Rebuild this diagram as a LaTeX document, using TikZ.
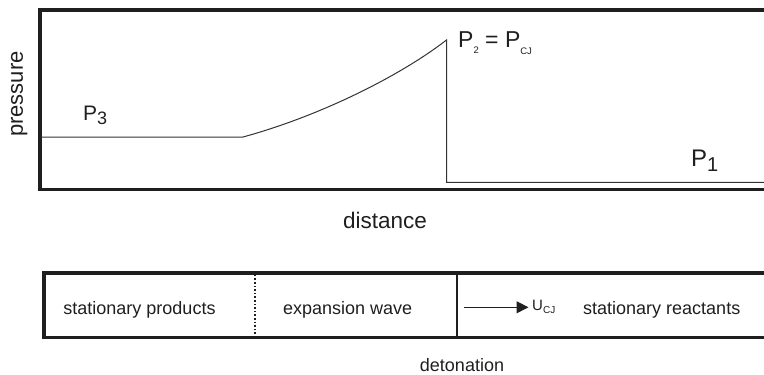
\documentclass[tikz,border=0pt]{standalone}
\usepackage{fontspec}
\setmainfont{Liberation Sans}
\usetikzlibrary{arrows.meta}
\newcommand{\fsz}[1]{\fontsize{#1}{#1}\selectfont}
\begin{document}
\begin{tikzpicture}[x=1pt,y=-1pt,
  frame/.style={line width=3.5pt, color=black!88, line join=miter},
  plotline/.style={line width=1pt, color=black!80},
  txt/.style={inner sep=0pt, font=\fsz{18}, text=black!88},
  big/.style={inner sep=0pt, font=\fsz{21}, text=black!88}]
\useasboundingbox (0,0) rectangle (764,375);
% pressure plot frame
\draw[frame] (766,10) -- (40,10) -- (40,189.5) -- (766,189.5);
\coordinate (a) at (41,137);
\coordinate (b) at (243,137);
\coordinate (c) at (446.5,40);
\coordinate (d) at (446.5,182.3);
\coordinate (e) at (766,182.3);
\draw[plotline] (a) -- (b) .. controls (320,116) and (400,76) .. (c) -- (d) -- (e);
% labels of plot
\node[big, rotate=90, anchor=base, font=\fsz{22}] (pr) at (23,94) {pressure};
\node[big, anchor=base west] (p3) at (83,120.7) {P\raisebox{-4pt}{\fsz{18}3}};
\node[inner sep=0pt, anchor=base west, text=black!88] (p2) at (458,47.7)
  {\fsz{23}P\raisebox{-5.5pt}{\fsz{9.5}2} = P\raisebox{-6.5pt}{\fsz{9.5}CJ}};
\node[inner sep=0pt, anchor=base west, text=black!88, font=\fsz{24}] (p1) at (691,166.7) {P\raisebox{-5pt}{\fsz{20}1}};
\node[big, anchor=base, font=\fsz{22.5}] (dist) at (385,228) {distance};
% lower box
\draw[frame] (766,273) -- (44,273) -- (44,337.7) -- (766,337.7);
\coordinate (dt) at (255,274.7);
\coordinate (db) at (255,336);
\draw[line width=1.6pt, dotted, color=black!88] (dt) -- (db);
\coordinate (st) at (456.7,274.7);
\coordinate (sb) at (456.7,336);
\draw[line width=1.6pt, color=black!88] (st) -- (sb);
\node[txt, anchor=base] (sp) at (139.5,314) {stationary products};
\node[txt, anchor=base west] (ew) at (283,314) {expansion wave};
\coordinate (aS) at (463.5,307.3);
\coordinate (aE) at (528.5,307.3);
\node[inner sep=0pt, anchor=base west, text=black!88] (u) at (532,310.7) {\fsz{15}U\raisebox{-2.5pt}{\fsz{10}CJ}};
\draw[line width=1pt, color=black!88, -{Triangle[length=12pt,width=12pt]}] (aS) -- (aE);
\node[txt, anchor=base west] (sr) at (583,314) {stationary reactants};
\node[inner sep=0pt, font=\fsz{18}, text=black!88, anchor=base] (det) at (462,371) {detonation};
\end{tikzpicture}
\end{document}
